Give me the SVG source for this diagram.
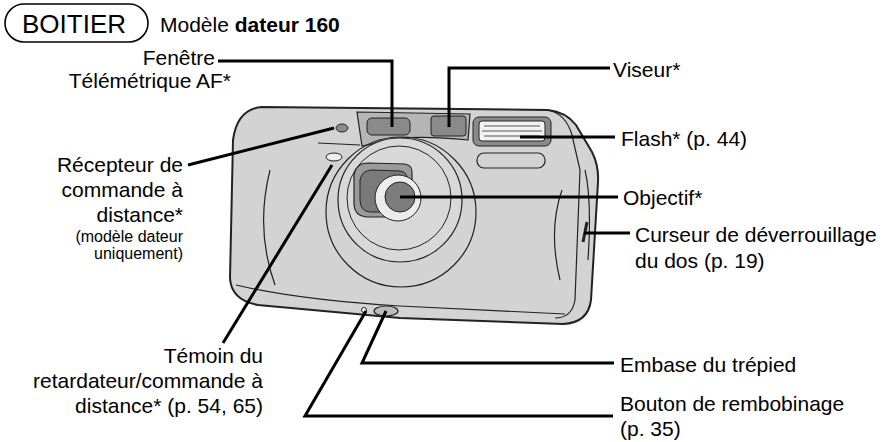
<svg xmlns="http://www.w3.org/2000/svg" width="892" height="442" viewBox="0 0 892 442">
<style>
text{font-family:"Liberation Sans",Arial,sans-serif;fill:#000;font-size:21px}
.s{font-size:16px}
.r{text-anchor:end}
.ln{fill:none;stroke:#000;stroke-width:3}
.d{fill:none;stroke:#222;stroke-width:1.2}
</style>
<rect width="892" height="442" fill="#fff"/>
<g id="header">
<rect x="5" y="4" width="143" height="38" rx="19" fill="none" stroke="#000" stroke-width="1.6"/>
<text x="22" y="33" style="font-size:26px">BOITIER</text>
<text x="160" y="32" style="font-size:21px">Modèle <tspan font-weight="bold">dateur 160</tspan></text>
</g>
<g id="camera">
<path d="M262,107 L548,110 Q566,112 576,125 L592,152 Q599,166 598,182 L591,300 Q588,323 563,324 L400,318 L258,305 Q231,300 230,278 L233,140 Q237,109 262,107 Z" fill="#d3d3d3" stroke="#222" stroke-width="2"/>
<path d="M548,110 Q566,114 572,135 L580,170 L575,300 Q572,318 555,318" class="d"/>
<path d="M585,170 Q592,200 588,260" class="d"/>
<path d="M236,285 Q300,300 400,306 L565,314" class="d"/>
<path d="M270,170 Q255,230 275,285" class="d"/>
<path d="M562,190 Q548,230 560,280" class="d"/>
<path d="M318,143 L360,145" class="d"/>
<path d="M357,112 L470,114 L468,140 Q430,136 400,138 L362,146 Z" fill="#b5b5b5" stroke="#222" stroke-width="1.2"/>
<rect x="367" y="118" width="43" height="17" rx="5" fill="#8a8a8a" stroke="#222" stroke-width="1"/>
<rect x="431" y="116" width="35" height="20" rx="3" fill="#8a8a8a" stroke="#222" stroke-width="1"/>
<rect x="473" y="117" width="78" height="29" rx="6" fill="#8a8a8a" stroke="#222" stroke-width="1"/>
<rect x="479" y="121" width="66" height="20" rx="3" fill="#f2f2f2" stroke="#222" stroke-width="1"/>
<path d="M484,126 L540,126 M482,131 L542,131 M484,136 L540,136" stroke="#555" stroke-width="1"/>
<rect x="477" y="153" width="68" height="15" rx="7" fill="none" stroke="#222" stroke-width="1.2"/>
<ellipse cx="342" cy="128" rx="6" ry="4" fill="#8a8a8a" stroke="#222"/>
<ellipse cx="334" cy="157" rx="8" ry="4" fill="#eee" stroke="#222"/>
<circle cx="401" cy="212" r="75" fill="none" stroke="#222" stroke-width="1.2"/>
<circle cx="400" cy="200" r="62" fill="#d8d8d8" stroke="#222" stroke-width="1.2"/>
<circle cx="399" cy="198" r="52" fill="none" stroke="#222" stroke-width="1"/>
<path d="M354,175 Q356,163 368,163 L405,164 Q413,165 412,175 L412,205 Q410,217 398,217 L366,217 Q355,216 354,205 Z" fill="#9a9a9a" stroke="#222" stroke-width="1.2"/>
<path d="M360,180 Q362,170 372,170 L400,171 Q408,172 408,182 L408,205 Q406,212 396,212 L370,212 Q360,211 360,200 Z" fill="#7a7a7a" stroke="#222"/>
<circle cx="398" cy="198" r="23" fill="#ececec" stroke="#222"/>
<circle cx="400" cy="197" r="15" fill="#7d7d7d" stroke="#222"/>
<ellipse cx="386" cy="311" rx="12" ry="5" fill="#bbb" stroke="#222" stroke-width="1.2"/>
<circle cx="364" cy="310" r="2.5" fill="#fff" stroke="#222"/>
<path d="M587,222 L583,242" stroke="#222" stroke-width="3"/>
</g>
<g id="connectors">
<path class="ln" d="M218,61 H392 V127"/>
<path class="ln" d="M449,127 V68 H610"/>
<path class="ln" d="M520,137 H615"/>
<path class="ln" d="M400,197 H618"/>
<path class="ln" d="M584,233 H630"/>
<path class="ln" d="M188,165 L334,128"/>
<path class="ln" d="M332,165 L223,343"/>
<path class="ln" d="M386,311 L362,363 H614"/>
<path class="ln" d="M366,311 L305,416 H613"/>
</g>
<g id="labels">
<text class="r" x="215" y="65">Fenêtre</text>
<text class="r" x="231" y="88">Télémétrique AF*</text>
<text x="613" y="77">Viseur*</text>
<text x="621" y="146">Flash* (p. 44)</text>
<text x="623" y="205">Objectif*</text>
<text x="635" y="242">Curseur de déverrouillage</text>
<text x="635" y="268">du dos (p. 19)</text>
<text class="r" x="183" y="172">Récepteur de</text>
<text class="r" x="183" y="197">commande à</text>
<text class="r" x="183" y="222">distance*</text>
<text class="r s" x="183" y="242">(modèle dateur</text>
<text class="r s" x="183" y="259">uniquement)</text>
<text class="r" x="263" y="363">Témoin du</text>
<text class="r" x="263" y="388">retardateur/commande à</text>
<text class="r" x="263" y="413">distance* (p. 54, 65)</text>
<text x="620" y="372">Embase du trépied</text>
<text x="620" y="411">Bouton de rembobinage</text>
<text x="620" y="436">(p. 35)</text>
</g>
</svg>
